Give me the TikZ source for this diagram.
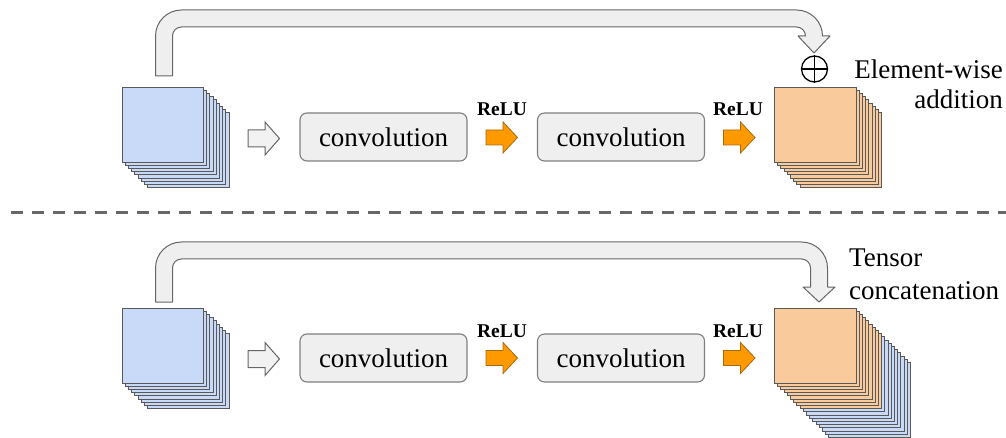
\documentclass[tikz,border=0pt]{standalone}
\usepackage{fontspec}
\setmainfont{Liberation Serif}
\newfontfamily\timesf{Liberation Serif}
\definecolor{blueL}{HTML}{C9DAF8}
\definecolor{orangeL}{HTML}{F9CB9C}
\definecolor{edgeG}{HTML}{595959}
\definecolor{boxF}{HTML}{EFEFEF}
\definecolor{boxD}{HTML}{7F7F7F}
\definecolor{reluO}{HTML}{FF9900}
\definecolor{reluD}{HTML}{A66A12}
\definecolor{dashG}{HTML}{666666}
\tikzset{
  layer/.style={draw=edgeG, line width=0.9pt},
  conv/.style={draw=boxD, fill=boxF, line width=1.1pt, rounded corners=7pt,
    minimum width=167pt, minimum height=48pt, inner sep=0pt,
    font=\timesf\fontsize{27}{30}\selectfont},
  skip/.style={draw=dashG, fill=boxF, line width=1pt, line join=round},
  whitearrow/.style={draw=dashG, fill=white!95!black, line width=1pt},
  orangearrow/.style={draw=reluD, fill=reluO, line width=0.8pt},
  relu/.style={font=\timesf\fontsize{19.5}{20}\selectfont\bfseries, inner sep=0pt, anchor=base},
  lbl/.style={font=\timesf\fontsize{27}{30}\selectfont, inner sep=0pt},
  dashline/.style={draw=dashG, line width=3pt, dash pattern=on 12pt off 9pt},
  plussign/.style={draw=black, circle, line width=1.3pt, minimum size=26pt, inner sep=0pt}
}
% skip arrow: #1 stem centre x, #2 stem foot y, #3 band centre y, #4 shaft centre x, #5 head top y, #6 tip y
\newcommand{\skiparrow}[6]{%
  \draw[skip] ({#1-8.5},#2) -- ({#1-8.5},{#3-8.5+26})
   .. controls ({#1-8.5},{#3-8.5+11.64}) and ({#1-8.5+11.64},{#3-8.5}) .. ({#1-8.5+26},{#3-8.5})
   -- ({#4+8.5-26},{#3-8.5})
   .. controls ({#4+8.5-11.64},{#3-8.5}) and ({#4+8.5},{#3-8.5+11.64}) .. ({#4+8.5},{#3-8.5+26})
   -- ({#4+8.5},#5) -- ({#4+16},#5) -- (#4,#6) -- ({#4-16},#5) -- ({#4-8.5},#5)
   -- ({#4-8.5},{#3+8.5+9})
   .. controls ({#4-8.5},{#3+8.5+4.03}) and ({#4-8.5-4.03},{#3+8.5}) .. ({#4-8.5-9},{#3+8.5})
   -- ({#1+8.5+9},{#3+8.5})
   .. controls ({#1+8.5+4.03},{#3+8.5}) and ({#1+8.5},{#3+8.5+4.03}) .. ({#1+8.5},{#3+8.5+9})
   -- ({#1+8.5},#2) -- cycle;}
% block arrow: #1 style, #2 left x, #3 centre y, #4 shaft half height, #5 head half height
\newcommand{\blockarrow}[5]{%
  \draw[#1] (#2,{#3-#4}) -- ({#2+17},{#3-#4}) -- ({#2+17},{#3-#5}) -- ({#2+31.5},#3)
   -- ({#2+17},{#3+#5}) -- ({#2+17},{#3+#4}) -- (#2,{#3+#4}) -- cycle;}
% one layer of a stack: #1 colour, #2 x, #3 y, #4 offset index
\newcommand{\stacklayer}[4]{%
  \draw[layer, fill=#1] ({#2+3.2*#4},{#3+3.2*#4}) rectangle ++(81.5,75);}
\begin{document}
\begin{tikzpicture}[x=1pt,y=-1pt]
\useasboundingbox (0,0) rectangle (1006,438);

% ---------------- top panel ----------------
\skiparrow{164}{76}{18.5}{814}{36}{53}
\foreach \k in {8,7,...,0}{\stacklayer{blueL}{122}{87}{\k}}
\foreach \k in {8,7,...,0}{\stacklayer{orangeL}{774.5}{87}{\k}}
\blockarrow{whitearrow}{248}{138.5}{8.5}{16.5}
\node[conv] (c1) at (383.5,137) {convolution};
\node[conv] (c2) at (621,137) {convolution};
\blockarrow{orangearrow}{486}{137.5}{7.5}{15.5}
\blockarrow{orangearrow}{723.5}{137.5}{7.5}{15.5}
\node[relu] (r1) at (502,116) {ReLU};
\node[relu] (r2) at (738,116) {ReLU};
\node[plussign] (plus) at (814.5,69) {};
\draw[line width=1.3pt] (plus.north) -- (plus.south);
\draw[line width=1.3pt] (plus.west) -- (plus.east);
\node[lbl, anchor=base east] (ew1) at (1003,79) {Element-wise};
\node[lbl, anchor=base east] (ew2) at (1003,109) {addition};

% ---------------- divider ----------------
\coordinate (dl) at (11,213);
\coordinate (dr) at (1006,213);
\draw[dashline] (dl) -- (dr);

% ---------------- bottom panel ----------------
\skiparrow{164}{302}{250.5}{819}{287}{302}
\foreach \k in {8,7,...,0}{\stacklayer{blueL}{122}{308}{\k}}
\foreach \k in {17,16,...,9}{\stacklayer{blueL}{774.5}{308}{\k}}
\foreach \k in {8,7,...,0}{\stacklayer{orangeL}{774.5}{308}{\k}}
\blockarrow{whitearrow}{248}{359}{8.5}{16.5}
\node[conv] (c3) at (383.5,358) {convolution};
\node[conv] (c4) at (621,358) {convolution};
\blockarrow{orangearrow}{486}{358}{7.5}{15.5}
\blockarrow{orangearrow}{723.5}{358}{7.5}{15.5}
\node[relu] (r3) at (502,337) {ReLU};
\node[relu] (r4) at (738,337) {ReLU};
\node[lbl, anchor=base west] (tc1) at (849,266) {Tensor};
\node[lbl, anchor=base west] (tc2) at (849,299) {concatenation};
\end{tikzpicture}
\end{document}
